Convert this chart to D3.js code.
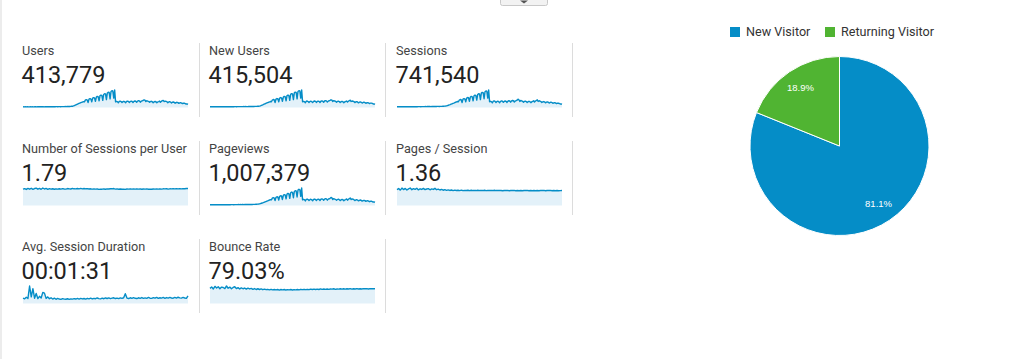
<!DOCTYPE html>
<html>
<head>
<meta charset="utf-8">
<script src="https://cdn.jsdelivr.net/npm/d3@7"></script>
<style>
html,body{margin:0;padding:0;background:#fff;}
svg{display:block;}
</style>
</head>
<body>
<svg id="chart" width="1024" height="359"></svg>
<script>
// ---------- DATA ----------
const metricTitles = ["Users","New Users","Sessions","Number of Sessions per User","Pageviews","Pages / Session","Avg. Session Duration","Bounce Rate"];
const metricValues = ["413,779","415,504","741,540","1.79","1,007,379","1.36","00:01:31","79.03%"];

const usersSeries = [
130,138,125,142,128,140,132,126,144,130,142,135,128,148,140,134,145,150,140,152,
138,146,155,132,148,150,142,156,150,145,158,162,150,165,160,155,168,172,160,175,
170,165,180,178,172,186,190,182,198,205,200,215,230,245,
260,320,400,480,560,650,740,820,900,980,1050,1120,1200,1150,
1500,1600,1550,1000,1700,1800,1750,1150,1900,2000,1950,1250,2100,2250,2200,1350,2400,2500,2450,1450,
2650,2800,2750,1600,2950,3100,3050,1750,3250,3400,3350,1900,3550,
1150,1220,1180,950,1250,1300,1200,1000,1180,1260,1150,980,1220,1300,1240,1020,1200,1280,1220,1000,
1250,1320,1260,1050,1300,1380,1320,1080,1280,1350,1420,1550,1480,1200,1380,1300,1250,1050,1200,1260,
1180,980,1150,1220,1160,960,1120,1200,1300,1080,1250,1380,1450,1200,1300,1250,1180,980,1120,1180,
1100,920,1060,1120,1040,880,1000,1060,980,840,940,980,900,780,860,880,800,700,720,620];
const newUsersSeries = [
150,142,156,146,152,138,150,158,144,156,150,142,160,152,148,162,158,155,168,150,
158,164,172,150,166,168,160,174,168,162,176,180,168,184,178,172,186,190,178,194,
188,182,198,196,190,204,208,200,216,224,220,234,250,266,
280,340,420,500,580,670,760,840,920,1000,1070,1140,1220,1170,
1520,1620,1570,1020,1720,1820,1770,1170,1920,2020,1970,1270,2120,2270,2220,1370,2420,2520,2470,1470,
2670,2820,2770,1620,2970,3120,3070,1770,3270,3420,3370,1920,3560,
1170,1240,1200,970,1270,1320,1220,1020,1200,1280,1170,1000,1240,1320,1260,1040,1220,1300,1240,1020,
1270,1340,1280,1070,1320,1400,1340,1100,1300,1370,1440,1570,1500,1220,1400,1320,1270,1070,1220,1280,
1200,1000,1170,1240,1180,980,1140,1220,1320,1100,1270,1400,1470,1220,1320,1270,1200,1000,1140,1200,
1120,940,1080,1140,1060,900,1020,1080,1000,860,960,1000,920,800,880,900,820,720,740,640];
const sessionsSeries = [
240,252,232,258,244,236,250,260,240,262,248,236,258,250,246,266,262,255,275,250,
262,270,258,280,268,276,262,284,290,278,292,300,288,305,298,310,302,296,315,320,
310,328,335,322,345,352,340,362,375,368,390,410,435,470,
520,620,720,820,920,1050,1180,1300,1420,1550,1680,1800,1920,1850,
2400,2550,2480,1600,2700,2850,2780,1800,3000,3200,3120,1980,3350,3550,3480,2150,3750,3950,3880,2350,
4150,4400,4320,2550,4600,4850,4780,2800,5050,5300,5220,3000,5600,
1850,1980,1900,1500,2000,2100,1950,1600,1900,2050,1850,1550,1980,2100,2000,1650,1950,2080,1980,1620,
2050,2150,2080,1700,2100,2250,2150,1750,2080,2200,2350,2650,2480,1950,2250,2100,2000,1700,1950,2050,
1900,1600,1850,1980,1880,1550,1800,1950,2150,1750,2050,2250,2450,1950,2150,2050,1900,1600,1800,1900,
1780,1500,1700,1800,1680,1420,1600,1700,1580,1350,1500,1560,1440,1250,1380,1400,1280,1120,1150,1000];
const sessionsPerUserSeries = [1.80,1.86,1.77,1.88,1.80,1.90,1.78,1.87,1.92,1.80,1.89,1.79,1.93,1.82,1.88,1.78,1.86,1.80,1.85,1.79,1.84,1.80,1.85,1.81,1.86,1.82,1.81,1.87,1.83,1.82,1.88,1.84,1.83,1.88,1.84,1.89,1.83,1.87,1.84,1.86,1.82,1.84,1.80,1.82,1.80,1.82,1.78,1.81,1.80,1.82,1.79,1.83,1.82,1.85,1.84,1.87,1.81,1.83,1.79,1.82,1.79,1.81,1.78,1.82,1.81,1.84,1.81,1.83,1.81,1.84,1.81,1.83,1.79,1.82,1.81,1.83,1.79,1.81,1.79,1.82,1.81,1.83,1.81,1.84,1.81,1.84,1.83,1.85,1.81,1.84,1.83,1.85,1.83,1.86,1.83,1.86,1.83,1.86,1.85,1.87,1.88];
const pageviewsSeries = [
320,336,310,344,326,318,334,348,322,352,336,318,346,338,330,358,352,345,370,338,
352,362,346,376,360,370,352,382,392,374,394,405,388,410,400,418,408,398,425,432,
418,442,452,435,465,475,458,490,505,496,525,555,590,635,
700,830,960,1090,1220,1390,1560,1720,1880,2050,2230,2390,2550,2450,
3180,3380,3290,2120,3580,3780,3690,2390,3980,4240,4140,2620,4440,4710,4610,2850,4970,5240,5140,3110,
5500,5830,5730,3380,6100,6430,6340,3710,6700,7030,6920,3980,7600,
2460,2630,2530,2000,2660,2790,2590,2130,2530,2730,2460,2060,2630,2790,2660,2190,2590,2770,2630,2150,
2730,2860,2770,2260,2790,2990,2860,2330,2770,2930,3130,3520,3300,2590,2990,2790,2660,2260,2590,2730,
2530,2130,2460,2630,2500,2060,2390,2590,2860,2330,2730,2990,3260,2590,2860,2730,2530,2130,2390,2530,
2370,2000,2260,2390,2230,1890,2130,2260,2100,1800,2000,2070,1920,1660,1840,1860,1700,1490,1530,1330];
const pagesPerSessionSeries = [1.42,1.52,1.38,1.56,1.43,1.53,1.39,1.49,1.57,1.42,1.51,1.45,1.55,1.40,1.50,1.44,1.53,1.43,1.48,1.51,1.41,1.49,1.44,1.54,1.42,1.47,1.39,1.45,1.37,1.42,1.36,1.40,1.35,1.39,1.34,1.38,1.35,1.37,1.34,1.38,1.33,1.36,1.35,1.37,1.33,1.37,1.34,1.36,1.34,1.37,1.34,1.36,1.34,1.37,1.33,1.35,1.34,1.36,1.34,1.37,1.34,1.36,1.34,1.35,1.32,1.35,1.34,1.36,1.32,1.35,1.34,1.36,1.32,1.34,1.32,1.35,1.32,1.35,1.34,1.36,1.32,1.35,1.32,1.34,1.32,1.35,1.32,1.35,1.34,1.36,1.32,1.35,1.34,1.36,1.32,1.35,1.32,1.35,1.32,1.33,1.35];
const avgDurationSeries = [100,88,118,95,330,125,280,100,190,92,135,105,210,195,96,125,90,108,84,100,80,95,84,78,92,82,80,90,78,88,82,92,84,95,84,96,86,94,84,98,88,100,86,97,90,104,92,88,100,90,104,94,106,92,100,108,94,102,92,106,96,108,185,102,94,108,96,110,98,94,108,98,112,96,106,98,114,100,96,110,100,116,98,108,102,114,98,112,102,116,104,100,114,102,118,106,102,114,104,98,145];
const bounceRateSeries = [82,90,79,93,84,91,80,89,87,81,95,83,89,80,87,91,81,86,79,85,80,84,78,83,79,82,77,81,76,80,76,79,75,78,75,77,74,77,74,76,74,76,73,76,74,76,73,75,74,76,73,75,74,76,74,77,75,77,75,77,75,78,76,78,76,78,76,79,77,79,77,79,77,79,78,80,77,79,78,80,78,80,78,80,79,81,78,80,79,81,79,80,79,81,80,81,79,81,80,81,80];

const pieLabels = ["New Visitor","Returning Visitor"];
const pieValues = [81.1, 18.9];
const pieColors = ["#058DC7","#50B432"];

// ---------- LAYOUT ----------
const series = [usersSeries,newUsersSeries,sessionsSeries,sessionsPerUserSeries,pageviewsSeries,pagesPerSessionSeries,avgDurationSeries,bounceRateSeries];
const colX = [22, 209, 396];
const rowY = [55, 153, 251];      // title baselines
const dividerX = [199, 385, 572];

const svg = d3.select("#chart");
svg.append("rect").attr("width",1024).attr("height",359).attr("fill","#fff");
svg.append("rect").attr("x",0).attr("y",0).attr("width",2).attr("height",359).attr("fill","#ececec");

// top dropdown button
const btn = svg.append("g");
btn.append("rect").attr("x",500.5).attr("y",-4.5).attr("width",47).attr("height",10).attr("rx",2)
  .attr("fill","#f2f2f2").attr("stroke","#c8c8c8");
btn.append("path").attr("d","M520,0.5 L528,0.5 L524,3.5 Z").attr("fill","#555");

// dividers
rowY.forEach((ry, r) => {
  const cols = r === 2 ? 2 : 3;
  for (let c = 0; c < cols; c++) {
    svg.append("line")
      .attr("x1", dividerX[c] + 0.5).attr("x2", dividerX[c] + 0.5)
      .attr("y1", ry - 12).attr("y2", ry + 62)
      .attr("stroke", "#dcdcdc").attr("stroke-width", 1);
  }
});

// tiles
metricTitles.forEach((title, i) => {
  const r = Math.floor(i / 3), c = i % 3;
  const x0 = colX[c], ty = rowY[r];
  const g = svg.append("g");
  g.append("text").attr("x", x0).attr("y", ty)
    .attr("font-family","Roboto, 'Noto Sans', sans-serif").attr("font-size",12.7)
    .attr("fill","#444").text(title);
  g.append("text").attr("x", x0 - 0.5).attr("y", ty + 28)
    .attr("font-family","Roboto, 'Noto Sans', sans-serif").attr("font-size",23.5)
    .attr("fill","#222").text(metricValues[i]);

  const data = series[i];
  const xs = d3.scaleLinear().domain([0, data.length - 1]).range([x0 + 1, x0 + 166]);
  const bottom = ty + 52.5, top = ty + 35;
  const ys = d3.scaleLinear().domain([0, d3.max(data)]).range([bottom, top]);
  const area = d3.area().x((d, k) => xs(k)).y0(bottom).y1(d => ys(d));
  const line = d3.line().x((d, k) => xs(k)).y(d => ys(d));
  g.append("path").datum(data).attr("d", area).attr("fill", "#e3f1f9");
  g.append("path").datum(data).attr("d", line).attr("fill", "none")
    .attr("stroke", "#058DC7").attr("stroke-width", 1.4).attr("stroke-linejoin","round");
});

// ---------- PIE ----------
const cx = 839.5, cy = 146, R = 89.5;
const pie = d3.pie().sort(null).value(d => d)(pieValues);
const arc = d3.arc().innerRadius(0).outerRadius(R);
const labelArc = d3.arc().innerRadius(R * 0.78).outerRadius(R * 0.78);
const pg = svg.append("g").attr("transform", `translate(${cx},${cy})`);
pg.selectAll("path.slice").data(pie).join("path").attr("class","slice")
  .attr("d", arc).attr("fill", (d, i) => pieColors[i])
  .attr("stroke", "#fff").attr("stroke-width", 1);
pg.selectAll("text.lbl").data(pie).join("text").attr("class","lbl")
  .attr("transform", d => `translate(${labelArc.centroid(d)})`)
  .attr("text-anchor","middle").attr("dy","0.35em")
  .attr("font-family","'Liberation Sans', Arial, sans-serif").attr("font-size",9.5)
  .attr("fill","#fff")
  .text((d, i) => pieValues[i].toFixed(1) + "%");

// legend
const legendX = [730, 825];
const lg = svg.append("g");
pieLabels.forEach((lab, i) => {
  lg.append("rect").attr("x", legendX[i]).attr("y", 27).attr("width", 10).attr("height", 10).attr("fill", pieColors[i]);
  lg.append("text").attr("x", legendX[i] + 16).attr("y", 36)
    .attr("font-family","Roboto, 'Noto Sans', sans-serif").attr("font-size",12.6)
    .attr("fill","#333").text(lab);
});
</script>
</body>
</html>
